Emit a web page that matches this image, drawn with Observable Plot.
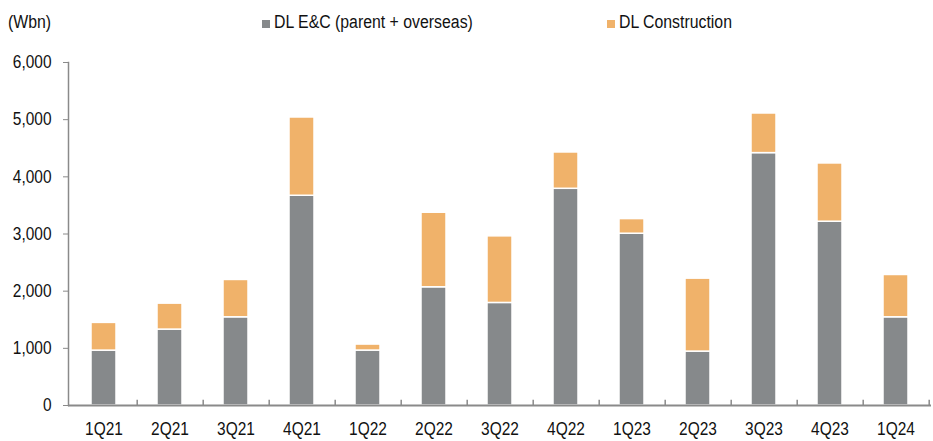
<!DOCTYPE html>
<html><head><meta charset="utf-8">
<script src="https://cdn.jsdelivr.net/npm/d3@7"></script>
<script src="https://cdn.jsdelivr.net/npm/@observablehq/plot@0.6"></script>
<style>
body{margin:0;background:#fff;font-family:"Liberation Sans",Arial,sans-serif;}
#wrap{position:relative;width:933px;}
#legend{position:relative;height:44px;font-size:18px;color:#111;}
#legend span.t{position:absolute;top:12px;white-space:nowrap;transform:scaleX(0.88);transform-origin:0 50%;}
#legend span.sw{position:absolute;top:20px;width:8px;height:8px;}
</style></head>
<body><div id="wrap">
<div id="legend">
  <span class="t" style="left:8px">(Wbn)</span>
  <span class="sw" style="left:262px;background:#86898b"></span>
  <span class="t" style="left:274px">DL E&amp;C (parent + overseas)</span>
  <span class="sw" style="left:607px;background:#f0b26a"></span>
  <span class="t" style="left:619px">DL Construction</span>
</div>
<div id="chart"></div>
</div>
<script>
const quarters = ["1Q21","2Q21","3Q21","4Q21","1Q22","2Q22","3Q22","4Q22","1Q23","2Q23","3Q23","4Q23","1Q24"];
const dlEC = [960,1328,1543,3669,961,2068,1794,3791,3005,943,4415,3215,1543];
const dlConstruction = [485,454,653,1369,105,1304,1165,635,256,1276,693,1019,740];
const series = ["DL E&C (parent + overseas)","DL Construction"];
const colors = ["#86898b","#f0b26a"];
const yTicks = [0,1000,2000,3000,4000,5000,6000];

const data = [];
quarters.forEach((q,i)=>{
  data.push({q, s: series[0], v: dlEC[i]});
  data.push({q, s: series[1], v: dlConstruction[i]});
});

const W = 933, H = 397, mL = 68, mR = 2;
const step = (W - mL - mR) / quarters.length;

const chart = Plot.plot({
  width: W, height: H,
  marginLeft: mL, marginRight: mR, marginTop: 18, marginBottom: 36,
  style: {fontFamily: '"Liberation Sans",Arial,sans-serif', fontSize: "18px", color: "#111", background: "#fff"},
  x: {domain: quarters, paddingInner: 0.62, paddingOuter: 0.31, axis: null},
  y: {domain: [0,6000], axis: null},
  color: {domain: series, range: colors},
  marks: [
    Plot.barY(data, Plot.stackY({x: "q", y: "v", fill: "s", order: series, stroke: "white", strokeWidth: 1.5})),
    Plot.ruleY([0], {stroke: "#8a8a8a", strokeWidth: 2}),
    Plot.frame({anchor: "left", stroke: "#8a8a8a", strokeWidth: 1.5}),
    Plot.ruleX(quarters, {x: d => d, y1: 0, y2: 90, dx: step/2, stroke: "#8a8a8a", strokeWidth: 1.5}),
    Plot.axisY({ticks: yTicks, tickSize: 5, tickPadding: 12, stroke: "#8a8a8a", fill: "#111", tickFormat: d3.format(","), fontSize: 18, label: null}),
    Plot.axisX({tickSize: 0, tickPadding: 17, fill: "#111", fontSize: 18, label: null})
  ]
});
// narrow the text glyphs to mimic a condensed face
chart.querySelectorAll("text").forEach(t => {
  const tr = t.getAttribute("transform");
  if (tr && tr.includes("translate")) t.setAttribute("transform", tr + " scale(0.86,1)");
});
document.getElementById("chart").appendChild(chart);
</script>
</body></html>
